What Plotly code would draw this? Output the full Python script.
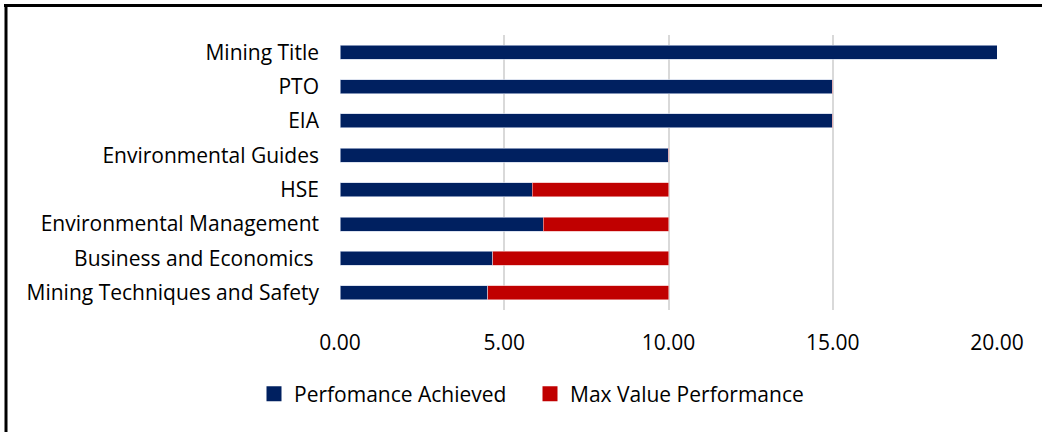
import plotly.graph_objects as go

categories = ["Mining Techniques and Safety", "Business and Economics ", "Environmental Management",
              "HSE", "Environmental Guides", "EIA", "PTO", "Mining Title"]
achieved = [4.49, 4.65, 6.19, 5.85, 10.0, 15.0, 15.0, 20.0]
max_value = [5.51, 5.35, 3.81, 4.15, 0.0, 0.0, 0.0, 0.0]
x_ticks = [0, 5, 10, 15, 20]
series_names = ["Perfomance Achieved", "Max Value Performance"]
series_colors = ["#002060", "#C00000"]

FONT = "Open Sans"
FS = 21
W, H = 1042, 432
L, R, T, B = 340, 45, 35, 122

fig = go.Figure()
for vals, name, col, edge in [(achieved, series_names[0], series_colors[0], "rgba(200,210,230,0.8)"),
                              (max_value, series_names[1], series_colors[1], "rgba(240,180,180,0.8)")]:
    fig.add_trace(go.Bar(y=categories, x=vals, orientation="h", name=name, showlegend=False,
                         marker=dict(color=col, line=dict(color=edge, width=0.8))))
for name, col in zip(series_names, series_colors):
    fig.add_trace(go.Scatter(x=[None], y=[None], mode="markers", name=name,
                             marker=dict(symbol="square", size=15, color=col)))

pw = W - L - R
ph = H - T - B
def px2x(p):
    return (p - L) / pw
def py2y(p):
    return (H - B - p) / ph

fig.update_layout(
    width=W, height=H,
    margin=dict(l=L, r=R, t=T, b=B),
    barmode="stack", bargap=0.59,
    plot_bgcolor="white", paper_bgcolor="white",
    font=dict(family=FONT, size=FS, color="#000000"),
    xaxis=dict(range=[0, 20], tickvals=x_ticks, tickformat=".2f", showgrid=True,
               gridcolor="#D9D9D9", gridwidth=1.5, zeroline=False, showline=False,
               ticks="", ticklabelstandoff=18, fixedrange=True),
    yaxis=dict(categoryorder="array", categoryarray=categories, showgrid=False,
               zeroline=False, showline=False, ticks="", ticklabelstandoff=20, fixedrange=True),
    legend=dict(orientation="h", xref="container", yref="container", x=254 / W, xanchor="left",
                y=1 - 394 / H, yanchor="middle", font=dict(size=FS), itemwidth=30,
                entrywidth=231, traceorder="normal"),
    showlegend=True,
    shapes=[
        dict(type="line", xref="paper", yref="paper", x0=px2x(4), x1=px2x(W + 5),
             y0=py2y(5.5), y1=py2y(5.5), line=dict(color="black", width=3)),
        dict(type="line", xref="paper", yref="paper", x0=px2x(6), x1=px2x(6),
             y0=py2y(4), y1=py2y(H + 5), line=dict(color="black", width=3)),
    ],
)

fig.write_html("out.html", config={"displayModeBar": False},
               post_script="document.body.style.margin='0';document.body.style.overflow='hidden';")
